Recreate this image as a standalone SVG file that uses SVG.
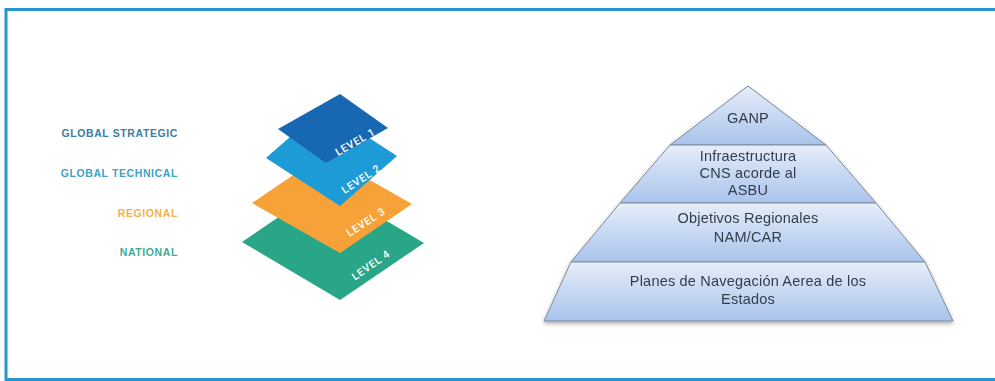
<svg xmlns="http://www.w3.org/2000/svg" width="995" height="381" viewBox="0 0 995 381">
<defs>
<linearGradient id="band" x1="0" y1="0" x2="0" y2="1">
<stop offset="0" stop-color="#e6eef9"/>
<stop offset="1" stop-color="#a9c3ec"/>
</linearGradient>
<filter id="shadow" x="-10%" y="-10%" width="120%" height="130%">
<feGaussianBlur in="SourceAlpha" stdDeviation="2"/>
<feOffset dx="0" dy="2" result="b"/>
<feComponentTransfer><feFuncA type="linear" slope="0.35"/></feComponentTransfer>
<feMerge><feMergeNode/><feMergeNode in="SourceGraphic"/></feMerge>
</filter>
<style>
.lbl{font-family:"Liberation Sans",Arial,sans-serif;font-weight:bold;font-size:10.5px;letter-spacing:0.6px;text-anchor:end}
.lv{font-family:Roboto,"Liberation Sans",sans-serif;font-weight:500;font-size:10.5px;letter-spacing:0.8px;fill:#ffffff;text-anchor:middle}
.band{fill:url(#band);stroke:#7d8b9c;stroke-width:1}
.pt{font-family:"Liberation Sans",Arial,sans-serif;font-size:14.5px;letter-spacing:0.2px;fill:#333d4b;text-anchor:middle}
</style>
</defs>
<rect x="0" y="0" width="995" height="381" fill="#ffffff"/>
<rect id="frame" x="6" y="9.5" width="1000" height="370" fill="none" stroke="#2596d0" stroke-width="3"/>

<g id="labels">
<text class="lbl" x="178" y="137" fill="#3c7ca3">GLOBAL STRATEGIC</text>
<text class="lbl" x="178" y="177" fill="#3ea2c3">GLOBAL TECHNICAL</text>
<text class="lbl" x="178" y="217" fill="#f2b24e">REGIONAL</text>
<text class="lbl" x="178" y="256" fill="#3fab94">NATIONAL</text>
</g>

<g id="layers">
<g id="level4">
<polygon points="326,185 424,243 340,300 242,242" fill="#29a688"/>
<text class="lv" transform="translate(373,268) rotate(-35)">LEVEL 4</text>
</g>
<g id="level3">
<polygon points="324,154 412,204 340,253 252,203" fill="#f7a239"/>
<text class="lv" transform="translate(368,225) rotate(-33)">LEVEL 3</text>
</g>
<g id="level2">
<polygon points="323,108 397,156 340,206 266,158" fill="#1d9bd7"/>
<text class="lv" transform="translate(363,182) rotate(-33)">LEVEL 2</text>
</g>
<g id="level1">
<polygon points="340,94 388,128 326,163 278,129" fill="#1767b3"/>
<text class="lv" transform="translate(357,145) rotate(-30)">LEVEL 1</text>
</g>
</g>

<g id="pyramid" filter="url(#shadow)">
<g id="ganp">
<polygon class="band" points="748,86 826,145 670,145"/>
<text class="pt" x="748" y="123">GANP</text>
</g>
<g id="infraestructura">
<polygon class="band" points="670,145 826,145 876,203 620,203"/>
<text class="pt" x="748" y="161">Infraestructura</text>
<text class="pt" x="748" y="178">CNS acorde al</text>
<text class="pt" x="748" y="195">ASBU</text>
</g>
<g id="objetivos">
<polygon class="band" points="620,203 876,203 925,262 571,262"/>
<text class="pt" x="748" y="223">Objetivos Regionales</text>
<text class="pt" x="748" y="242">NAM/CAR</text>
</g>
<g id="planes">
<polygon class="band" points="571,262 925,262 953,321 544,321"/>
<text class="pt" x="748" y="286">Planes de Navegación Aerea de los</text>
<text class="pt" x="748" y="304">Estados</text>
</g>
</g>

<g id="connectors"/>
</svg>
